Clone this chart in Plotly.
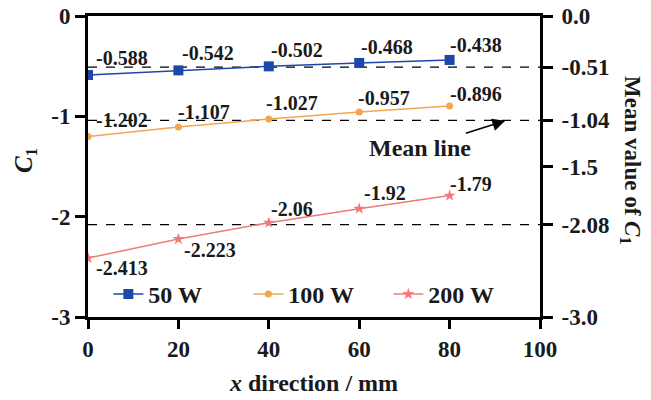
import plotly.graph_objects as go

x_mm = [0, 20, 40, 60, 80]
c1_50w = [-0.588, -0.542, -0.502, -0.468, -0.438]
c1_100w = [-1.202, -1.107, -1.027, -0.957, -0.896]
c1_200w = [-2.413, -2.223, -2.06, -1.92, -1.79]
series_names = ["50 W", "100 W", "200 W"]
mean_values = [-0.51, -1.04, -2.08]
left_ticks = [0, -1, -2, -3]
left_tick_text = ["0", "-1", "-2", "-3"]
right_ticks = [0.0, -0.51, -1.04, -1.5, -2.08, -3.0]
right_tick_text = ["0.0", "-0.51", "-1.04", "-1.5", "-2.08", "-3.0"]
x_ticks = [0, 20, 40, 60, 80, 100]

FONT = "Liberation Serif"
colors = ["#1e48a8", "#f2a650", "#f07a7a"]
symbols = ["square", "circle", "star"]
msizes = [10, 7, 9]
# label placement (pixel shifts) per series/point: (xshift, yshift)
label_shift = [
    [(6, 17), (2, 17), (0, 16), (0, 16), (-2, 15)],
    [(6, 17), (-2, 15), (-5, 16), (-3, 14), (-2, 12)],
    [(6, -10), (4, -11), (0, 14), (3, 16), (-2, 12)],
]

fig = go.Figure()

# mean lines
for m in mean_values:
    fig.add_trace(go.Scatter(x=[x_ticks[0], x_ticks[-1]], y=[m, m], mode="lines",
                             line=dict(color="black", width=1.3, dash="dash"),
                             showlegend=False, hoverinfo="skip"))

series = [c1_50w, c1_100w, c1_200w]
for i, ys in enumerate(series):
    fig.add_trace(go.Scatter(x=x_mm, y=ys, mode="lines+markers", name=series_names[i],
                             line=dict(color=colors[i], width=1.5),
                             marker=dict(symbol=symbols[i], size=msizes[i], color=colors[i])))
    for j, (xv, yv) in enumerate(zip(x_mm, ys)):
        dx, dy = label_shift[i][j]
        fig.add_annotation(x=xv, y=yv, text=str(yv), showarrow=False,
                           xanchor="left", yanchor="middle", xshift=dx, yshift=dy,
                           font=dict(family=FONT, size=20, color="#1a1a1a", weight="bold"))

# invisible trace to activate right axis
fig.add_trace(go.Scatter(x=[x_mm[0]], y=[mean_values[0]], yaxis="y2", mode="markers",
                         marker=dict(opacity=0), showlegend=False, hoverinfo="skip"))

fig.add_annotation(x=92.3, y=-1.045, ax=-85, ay=27, text="Mean line", showarrow=True,
                   arrowhead=2, arrowsize=1.6, arrowwidth=1.6, arrowcolor="black",
                   font=dict(family=FONT, size=24, color="#1a1a1a", weight="bold"))

fig.add_annotation(xref="paper", yref="paper", x=-0.138, y=0.52, showarrow=False,
                   xanchor="center", yanchor="middle",
                   text="<i>C</i><sub>1</sub>", textangle=-90,
                   font=dict(family=FONT, size=25, color="#1a1a1a"))
fig.add_annotation(xref="paper", yref="paper", x=1.2, y=0.52, showarrow=False,
                   xanchor="center", yanchor="middle",
                   text="<b>Mean value of </b><i>C</i><sub>1</sub>", textangle=90,
                   font=dict(family=FONT, size=23, color="#1a1a1a"))

fig.update_layout(
    width=651, height=400,
    margin=dict(l=88, r=111, t=16, b=83, autoexpand=False),
    paper_bgcolor="white", plot_bgcolor="white",
    font=dict(family=FONT, size=23, color="#1a1a1a", weight="bold"),
    xaxis=dict(range=[0, 100], tickvals=x_ticks, showgrid=False, zeroline=False,
               showline=True, linecolor="black", linewidth=3, mirror=True, automargin=False,
               ticks="outside", ticklen=9, tickwidth=3, tickcolor="black",
               title=dict(text="<i>x</i> direction / mm", standoff=14,
                          font=dict(family=FONT, size=24, weight="bold"))),
    yaxis=dict(range=[-3, 0], tickvals=left_ticks, ticktext=left_tick_text, automargin=False,
               showgrid=False, zeroline=False, showline=True, linecolor="black", linewidth=3,
               ticks="outside", ticklen=10, tickwidth=3, tickcolor="black"),
    yaxis2=dict(range=[-3, 0], tickvals=right_ticks, ticktext=right_tick_text, automargin=False,
                overlaying="y", side="right", showgrid=False, zeroline=False,
                showline=True, linecolor="black", linewidth=3, ticklabelstandoff=4,
                ticks="outside", ticklen=10, tickwidth=3, tickcolor="black"),
    legend=dict(orientation="h", x=0.045, y=0.075, xanchor="left", yanchor="middle",
                bgcolor="rgba(0,0,0,0)", font=dict(family=FONT, size=24, weight="bold"),
                entrywidth=95, itemwidth=30),
    showlegend=True,
)

fig.write_html("out.html")
